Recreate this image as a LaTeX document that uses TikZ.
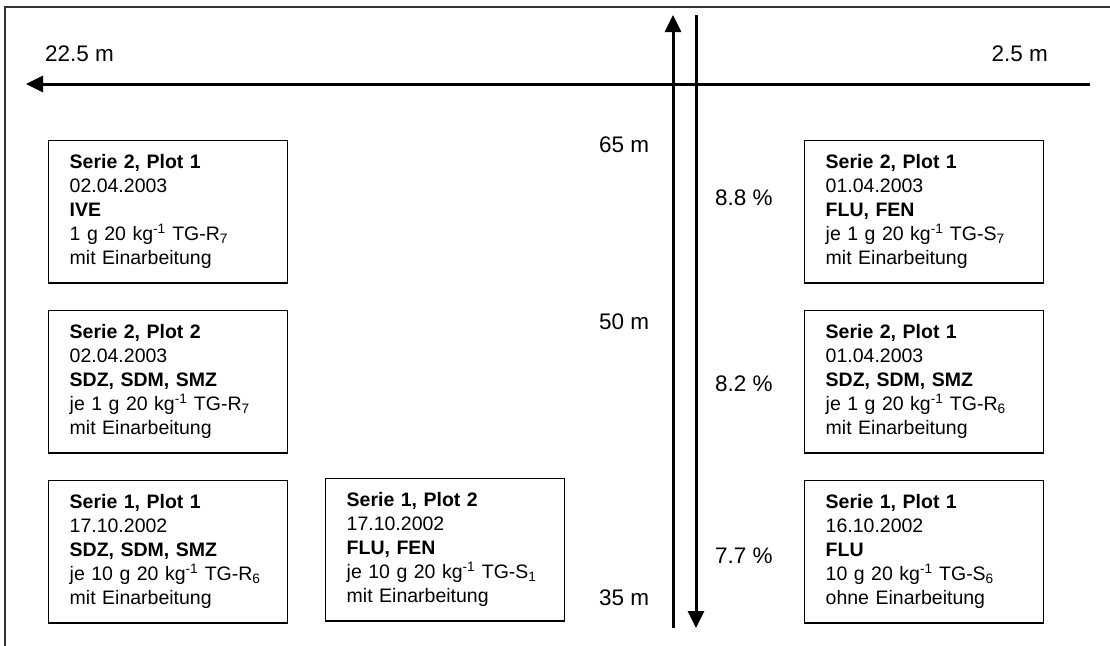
\documentclass[tikz,border=0pt]{standalone}
\usepackage{fontspec}
\setmainfont{Liberation Sans}
\usetikzlibrary{arrows.meta}
\newcommand{\perkg}{kg\textsuperscript{-1}}
\tikzset{
	plotbox/.style={draw, line width=1.4pt, anchor=north west, align=left, text width=197pt,
		inner xsep=21pt, inner ysep=14pt, font=\fontsize{19.5}{24}\selectfont},
	lbl/.style={font=\fontsize{22.5}{26}\selectfont, inner sep=0pt},
	axis/.style={line width=3pt, -{Triangle[length=17pt,width=16pt]}}
}
\begin{document}
\begin{tikzpicture}[x=1pt, y=-1pt]
		\useasboundingbox (0,0) rectangle (1110,645);
		%frame
		\draw[line width=1.5pt, black!80] (5,650) -- (5,7) -- (1115,7);
		
		%distance axis
		\coordinate (hR) at (1090,84);
		\coordinate (hL) at (26,84);
		\draw[axis] (hR) -- (hL);
		\node[lbl, anchor=base west] (d1) at (45,61){22.5 m};
		\node[lbl, anchor=base east] (d2) at (1048,61){2.5 m};
		
		%slope axes
		\coordinate (upB) at (673,628);
		\coordinate (upT) at (673,15);
		\coordinate (dnT) at (696,15);
		\coordinate (dnB) at (696,628);
		\draw[axis] (upB) -- (upT);
		\draw[axis] (dnT) -- (dnB);
		\node[lbl, anchor=base west] (h65) at (599,152){65 m};
		\node[lbl, anchor=base west] (h50) at (599,329){50 m};
		\node[lbl, anchor=base west] (h35) at (599,605){35 m};
		\node[lbl, anchor=base west] (g88) at (715,205){8.8 \%};
		\node[lbl, anchor=base west] (g82) at (715,391){8.2 \%};
		\node[lbl, anchor=base west] (g77) at (715,563){7.7 \%};
		
		%plots left
		\node[plotbox] (s2p1L) at (48,140){\textbf{Serie 2, Plot 1}\\02.04.2003\\\textbf{IVE}\\1 g 20 \perkg{} TG-R\textsubscript{7}\\mit Einarbeitung};
		\node[plotbox] (s2p2L) at (48,310){\textbf{Serie 2, Plot 2}\\02.04.2003\\\textbf{SDZ, SDM, SMZ}\\je 1 g 20 \perkg{} TG-R\textsubscript{7}\\mit Einarbeitung};
		\node[plotbox] (s1p1L) at (48,480){\textbf{Serie 1, Plot 1}\\17.10.2002\\\textbf{SDZ, SDM, SMZ}\\je 10 g 20 \perkg{} TG-R\textsubscript{6}\\mit Einarbeitung};
		\node[plotbox] (s1p2L) at (325,478){\textbf{Serie 1, Plot 2}\\17.10.2002\\\textbf{FLU, FEN}\\je 10 g 20 \perkg{} TG-S\textsubscript{1}\\mit Einarbeitung};
		
		%plots right
		\node[plotbox] (s2p1R) at (804,140){\textbf{Serie 2, Plot 1}\\01.04.2003\\\textbf{FLU, FEN}\\je 1 g 20 \perkg{} TG-S\textsubscript{7}\\mit Einarbeitung};
		\node[plotbox] (s2p1Rb) at (804,310){\textbf{Serie 2, Plot 1}\\01.04.2003\\\textbf{SDZ, SDM, SMZ}\\je 1 g 20 \perkg{} TG-R\textsubscript{6}\\mit Einarbeitung};
		\node[plotbox] (s1p1R) at (804,480){\textbf{Serie 1, Plot 1}\\16.10.2002\\\textbf{FLU}\\10 g 20 \perkg{} TG-S\textsubscript{6}\\ohne Einarbeitung};
\end{tikzpicture}
\end{document}
